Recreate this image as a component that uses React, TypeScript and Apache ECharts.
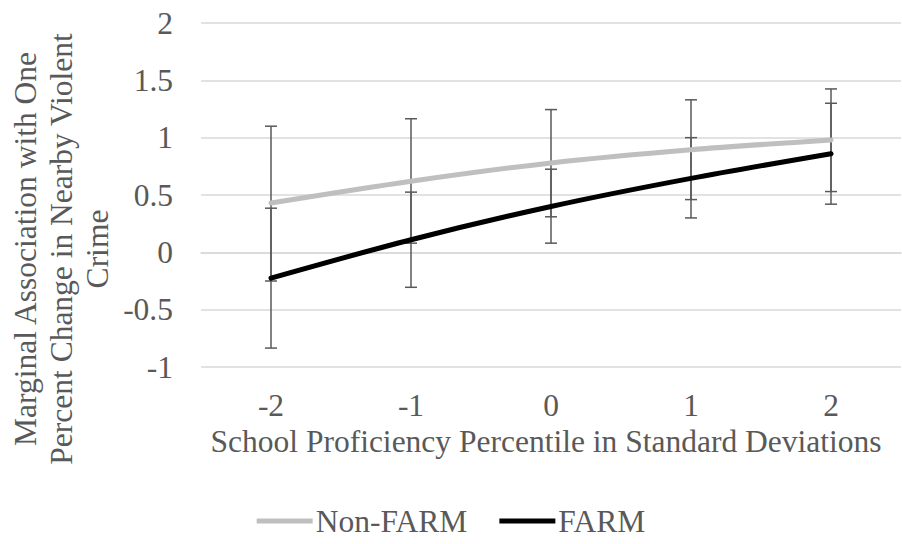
import React, { useEffect, useRef } from "react";
import * as echarts from "echarts";

const categories = ["-2", "-1", "0", "1", "2"];
const nonFarm = [0.43, 0.62, 0.78, 0.895, 0.98];
const nonFarmLow = [-0.25, 0.08, 0.31, 0.46, 0.53];
const nonFarmHigh = [1.1, 1.165, 1.245, 1.33, 1.425];
const farm = [-0.225, 0.11, 0.4, 0.645, 0.86];
const farmLow = [-0.835, -0.305, 0.08, 0.3, 0.42];
const farmHigh = [0.385, 0.525, 0.725, 1.0, 1.3];

const FONT = "Liberation Serif";
const TXT = "#595959";
const FS = 31.5;

function errorSeries(name: string, low: number[], high: number[]) {
  return {
    type: "custom",
    name: name + "-err",
    z: 1,
    silent: true,
    encode: { x: 0, y: [1, 2] },
    data: low.map((l, i) => [i, l, high[i]]),
    renderItem: (params: any, api: any) => {
      const x = api.value(0);
      const p1 = api.coord([x, api.value(1)]);
      const p2 = api.coord([x, api.value(2)]);
      const hw = 6;
      const style = { stroke: "#595959", lineWidth: 1.5 };
      return {
        type: "group",
        children: [
          { type: "line", shape: { x1: p1[0], y1: p1[1], x2: p2[0], y2: p2[1] }, style },
          { type: "line", shape: { x1: p1[0] - hw, y1: p1[1], x2: p1[0] + hw, y2: p1[1] }, style },
          { type: "line", shape: { x1: p2[0] - hw, y1: p2[1], x2: p2[0] + hw, y2: p2[1] }, style },
        ],
      };
    },
  };
}

export default function App() {
  const ref = useRef<HTMLDivElement>(null);
  useEffect(() => {
    const chart = echarts.init(ref.current!, null, { renderer: "svg" });
    chart.setOption({
      animation: false,
      backgroundColor: "#ffffff",
      grid: { left: 201, right: 1, top: 23, bottom: 177, containLabel: false },
      legend: {
        bottom: 2,
        left: "center",
        data: [
          { name: "Non-FARM", icon: "rect" },
          { name: "FARM", icon: "rect" },
        ],
        itemWidth: 56,
        itemHeight: 5,
        itemGap: 32,
        textStyle: { fontFamily: FONT, fontSize: FS, color: TXT, padding: [0, 0, 0, -2] },
      },
      xAxis: {
        type: "category",
        data: categories,
        boundaryGap: true,
        axisLine: { lineStyle: { color: "#D9D9D9", width: 1.5 } },
        axisTick: { show: false },
        axisLabel: { fontFamily: FONT, fontSize: FS, color: TXT, margin: 22 },
        name: "School Proficiency Percentile in Standard Deviations",
        nameLocation: "middle",
        nameGap: 57,
        nameTextStyle: { fontFamily: FONT, fontSize: FS, color: TXT, padding: [0, 10, 0, 0] },
      },
      yAxis: {
        type: "value",
        min: -1,
        max: 2,
        interval: 0.5,
        axisLine: { show: false },
        axisTick: { show: false },
        splitLine: { lineStyle: { color: "#D9D9D9", width: 1.5 } },
        axisLabel: { fontFamily: FONT, fontSize: FS, color: TXT, margin: 28 },
      },
      graphic: [
        {
          type: "text",
          x: 61,
          y: 249,
          rotation: Math.PI / 2,
          style: {
            text: "Marginal Association with One\nPercent Change in Nearby Violent\nCrime",
            fontFamily: FONT,
            fontSize: FS,
            fill: TXT,
            align: "center",
            verticalAlign: "middle",
            lineHeight: 36,
          },
        },
      ],
      series: [
        errorSeries("Non-FARM", nonFarmLow, nonFarmHigh),
        errorSeries("FARM", farmLow, farmHigh),
        {
          type: "line",
          name: "Non-FARM",
          data: nonFarm,
          z: 3,
          smooth: 0.3,
          symbol: "none",
          itemStyle: { color: "#BFBFBF" },
          lineStyle: { color: "#BFBFBF", width: 5, cap: "round" },
        },
        {
          type: "line",
          name: "FARM",
          data: farm,
          z: 3,
          smooth: 0.3,
          symbol: "none",
          itemStyle: { color: "#000000" },
          lineStyle: { color: "#000000", width: 5, cap: "round" },
        },
      ],
    });
    return () => chart.dispose();
  }, []);
  return <div ref={ref} style={{ width: 902, height: 544, position: "absolute", left: 0, top: 0 }} />;
}
